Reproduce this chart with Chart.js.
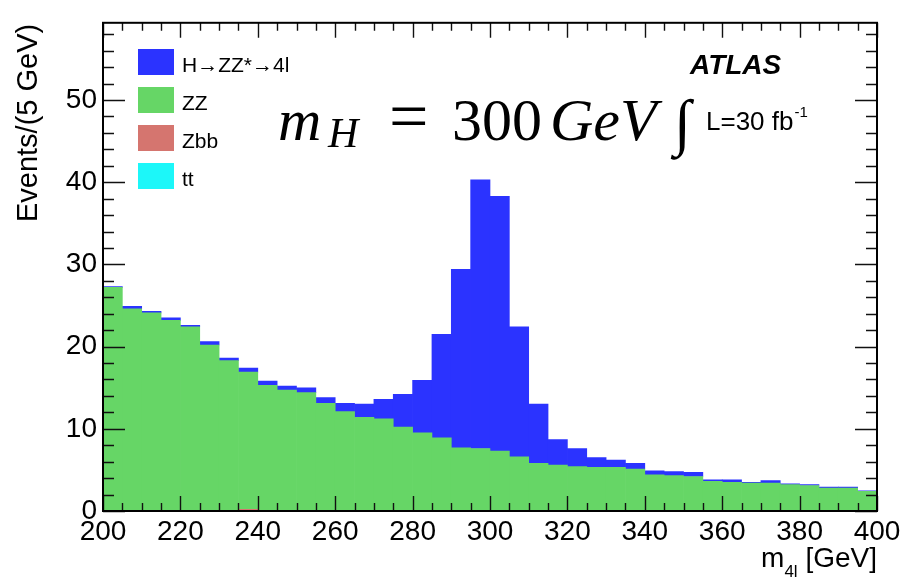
<!DOCTYPE html>
<html>
<head>
<meta charset="utf-8">
<script src="https://cdn.jsdelivr.net/npm/chart.js@4/dist/chart.umd.min.js"></script>
<style>
  html, body { margin:0; padding:0; background:#fff; }
  #wrap { width:907px; height:581px; }
</style>
</head>
<body>
<div id="wrap"><canvas id="massChart" width="907" height="581"></canvas></div>
<script>
// m4l histogram, 5 GeV bins from 200 to 400
const binCenters = [202.5, 207.5, 212.5, 217.5, 222.5, 227.5, 232.5, 237.5, 242.5, 247.5,
                    252.5, 257.5, 262.5, 267.5, 272.5, 277.5, 282.5, 287.5, 292.5, 297.5,
                    302.5, 307.5, 312.5, 317.5, 322.5, 327.5, 332.5, 337.5, 342.5, 347.5,
                    352.5, 357.5, 362.5, 367.5, 372.5, 377.5, 382.5, 387.5, 392.5, 397.5];

const ttEvents    = [0,0,0,0,0,0,0,0,0,0, 0,0,0,0,0,0,0,0,0,0, 0,0,0,0,0,0,0,0,0,0, 0,0,0,0,0,0,0,0,0,0];
const zbbEvents   = [0,0,0,0,0,0,0,0.2,0,0, 0,0,0,0,0,0,0,0,0,0, 0,0,0,0,0,0,0,0,0,0, 0,0,0,0,0,0,0,0,0,0];
const zzEvents    = [27.2, 24.6, 24.1, 23.2, 22.4, 20.2, 18.3, 16.7, 15.3, 14.7,
                     14.4, 13.1, 12.1, 11.4, 11.2, 10.2,  9.5,  8.9,  7.7,  7.6,
                      7.3,  6.6,  5.8,  5.6,  5.4,  5.3,  5.3,  5.1,  4.4,  4.3,
                      4.2,  3.6,  3.5,  3.4,  3.4,  3.2,  3.1,  2.8,  2.8,  2.4];
const higgsEvents = [ 0.1,  0.3,  0.2,  0.3,  0.2,  0.4,  0.3,  0.5,  0.5,  0.5,
                      0.6,  0.7,  1.0,  1.6,  2.4,  4.0,  6.4, 12.6, 21.7, 32.7,
                     31.0, 15.8,  7.2,  3.1,  2.2,  1.2,  0.9,  0.7,  0.5,  0.5,
                      0.5,  0.2,  0.3,  0.1,  0.3,  0.1,  0.1,  0.1,  0.1, 0.05];

const xTicks = [200, 220, 240, 260, 280, 300, 320, 340, 360, 380, 400];
const yTicks = [0, 10, 20, 30, 40, 50];

const legendItems = [
  {label:"H\u2192ZZ*\u21924l", color:"#2b33ff"},
  {label:"ZZ",  color:"#66d666"},
  {label:"Zbb", color:"#d5756f"},
  {label:"tt",  color:"#1cf7f9"},
];

const SANS = '"Liberation Sans", Arial, Helvetica, sans-serif';
const SERIF = '"Liberation Serif", "Times New Roman", serif';

function toPoints(vals) { return binCenters.map((c,i)=>({x:c, y:vals[i]})); }

// inward ROOT-style ticks and box frame
const frameTicks = {
  id:"frameTicks",
  afterDatasetsDraw(chart) {
    const {ctx, chartArea:a, scales:{x, y}} = chart;
    ctx.save();
    ctx.strokeStyle = "#111"; ctx.lineWidth = 1.4;
    ctx.beginPath();
    for (let v = 200; v <= 400; v += 5) {
      const px = Math.round(x.getPixelForValue(v)) + 0.5;
      const len = v % 20 === 0 ? 15 : 8;
      ctx.moveTo(px, a.bottom); ctx.lineTo(px, a.bottom - len);
      ctx.moveTo(px, a.top);    ctx.lineTo(px, a.top + len);
    }
    for (let v = 0; v <= 58; v += 2) {
      const py = Math.round(y.getPixelForValue(v)) + 0.5;
      const len = v % 10 === 0 ? 22 : 11;
      ctx.moveTo(a.left, py);  ctx.lineTo(a.left + len, py);
      ctx.moveTo(a.right, py); ctx.lineTo(a.right - len, py);
    }
    ctx.stroke();
    ctx.lineWidth = 2; ctx.strokeStyle = "#000";
    ctx.strokeRect(a.left, a.top, a.right - a.left, a.bottom - a.top);
    ctx.restore();
  },
  afterDraw(chart) {
    const {ctx, chartArea:a} = chart;
    ctx.save();
    ctx.fillStyle = "#000";
    ctx.textBaseline = "alphabetic";

    // y title, right aligned at top
    ctx.save();
    ctx.translate(37, a.top + 1);
    ctx.rotate(-Math.PI/2);
    ctx.textAlign = "right";
    ctx.font = "29px " + SANS;
    ctx.fillText("Events/(5 GeV)", 0, 0);
    ctx.restore();

    // x title m_4l [GeV], right aligned
    ctx.textAlign = "left";
    ctx.font = "28px " + SANS;
    const wm = ctx.measureText("m").width, wu = ctx.measureText(" [GeV]").width;
    ctx.font = "17px " + SANS;
    const ws = ctx.measureText("4l").width;
    let xs = a.right - wm - ws - wu;
    ctx.font = "28px " + SANS; ctx.fillText("m", xs, 567);
    ctx.font = "17px " + SANS; ctx.fillText("4l", xs + wm, 577);
    ctx.font = "28px " + SANS; ctx.fillText(" [GeV]", xs + wm + ws, 567);

    // legend
    legendItems.forEach((it, i) => {
      const top = 49 + i*38;
      ctx.fillStyle = it.color;
      ctx.fillRect(138, top, 36, 26);
      ctx.fillStyle = "#000";
      ctx.font = "21px " + SANS;
      ctx.fillText(it.label, 182, top + 23);
    });

    // ATLAS label
    ctx.font = "italic bold 28px " + SANS;
    ctx.fillText("ATLAS", 690, 74);

    // m_H = 300 GeV
    ctx.font = "italic 60px " + SERIF; ctx.fillText("m", 278, 140);
    ctx.font = "italic 42px " + SERIF; ctx.fillText("H", 328, 147);
    ctx.font = "70px " + SERIF;        ctx.fillText("=", 389, 140);
    ctx.font = "60px " + SERIF;        ctx.fillText("300", 452, 140);
    ctx.font = "italic 60px " + SERIF; ctx.fillText("GeV", 550, 140);
    ctx.font = "italic 62px " + SERIF; ctx.fillText("\u222B", 674, 143);

    // integrated luminosity
    ctx.font = "26px " + SANS;
    ctx.fillText("L=30 fb", 706, 130);
    const wl = ctx.measureText("L=30 fb").width;
    ctx.font = "15px " + SANS;
    ctx.fillText("-1", 706 + wl + 1, 117);
    ctx.restore();
  }
};

const datasets = [
  {label:"tt",  data:toPoints(ttEvents),    backgroundColor:"#1cf7f9"},
  {label:"Zbb", data:toPoints(zbbEvents),   backgroundColor:"#d5756f"},
  {label:"ZZ",  data:toPoints(zzEvents),    backgroundColor:"#66d666"},
  {label:"H->ZZ*->4l", data:toPoints(higgsEvents), backgroundColor:"#2b33ff"},
].map(d => Object.assign(d, {borderWidth:0, barPercentage:1, categoryPercentage:1}));

new Chart(document.getElementById("massChart").getContext("2d"), {
  type:"bar",
  data:{datasets},
  options:{
    responsive:false, animation:false, devicePixelRatio:1,
    layout:{padding:{top:12, right:30, left:0, bottom:0}},
    plugins:{legend:{display:false}, tooltip:{enabled:false}},
    scales:{
      x:{
        type:"linear", stacked:true, min:200, max:400, offset:false,
        afterFit:s => { s.height = 70; },
        afterBuildTicks:s => { s.ticks = xTicks.map(v=>({value:v})); },
        grid:{display:false, drawTicks:false, offset:false}, border:{display:false},
        ticks:{autoSkip:false, maxRotation:0, padding:4, color:"#000", font:{family:SANS, size:28}}
      },
      y:{
        stacked:true, min:0, max:59.4,
        afterFit:s => { s.width = 103; },
        afterBuildTicks:s => { s.ticks = yTicks.map(v=>({value:v})); },
        grid:{display:false, drawTicks:false}, border:{display:false},
        ticks:{padding:6, color:"#000", font:{family:SANS, size:28}}
      }
    }
  },
  plugins:[frameTicks]
});
</script>
</body>
</html>
